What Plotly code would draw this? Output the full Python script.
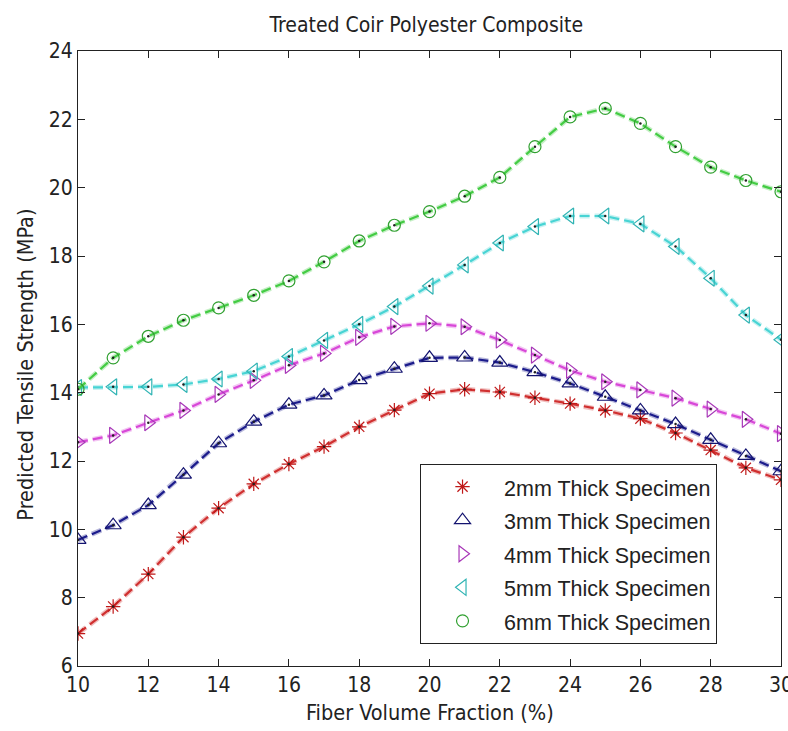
import plotly.graph_objects as go

fiber = [10, 11, 12, 13, 14, 15, 16, 17, 18, 19, 20, 21, 22, 23, 24, 25, 26, 27, 28, 29, 30]
s2mm = [6.95, 7.74, 8.69, 9.77, 10.62, 11.33, 11.91, 12.42, 13.0, 13.49, 13.97, 14.1, 14.02, 13.85, 13.68, 13.48, 13.24, 12.82, 12.32, 11.8, 11.45]
s3mm = [9.69, 10.12, 10.71, 11.6, 12.52, 13.15, 13.65, 13.92, 14.37, 14.7, 15.02, 15.03, 14.88, 14.6, 14.27, 13.88, 13.48, 13.08, 12.62, 12.15, 11.7]
s4mm = [12.55, 12.75, 13.12, 13.48, 13.95, 14.36, 14.8, 15.15, 15.62, 15.94, 16.03, 15.93, 15.54, 15.1, 14.65, 14.32, 14.08, 13.84, 13.52, 13.22, 12.8]
s5mm = [14.15, 14.17, 14.17, 14.24, 14.4, 14.63, 15.06, 15.53, 16.0, 16.52, 17.12, 17.74, 18.38, 18.86, 19.17, 19.17, 18.94, 18.28, 17.35, 16.27, 15.55]
s6mm = [14.1, 15.02, 15.65, 16.12, 16.48, 16.85, 17.27, 17.83, 18.44, 18.9, 19.3, 19.75, 20.3, 21.2, 22.07, 22.32, 21.88, 21.2, 20.6, 20.21, 19.88]

names = ["2mm Thick Specimen", "3mm Thick Specimen", "4mm Thick Specimen",
         "5mm Thick Specimen", "6mm Thick Specimen"]
series = [s2mm, s3mm, s4mm, s5mm, s6mm]
line_colors = ["#d03030", "#1c1c8c", "#d848d8", "#48d4d4", "#44cc44"]
marker_colors = ["#c01818", "#141470", "#a838b8", "#30b4b4", "#30a030"]
symbols = ["asterisk-open", "triangle-up-open", "triangle-right-open",
           "triangle-left-open", "circle-open"]
sizes = [12, 14, 14, 14, 12]

fig = go.Figure()
for ys, nm, lc, mc, sym, sz in zip(series, names, line_colors, marker_colors, symbols, sizes):
    fig.add_trace(go.Scatter(x=fiber, y=ys, mode="lines", showlegend=False,
                             line=dict(color=lc, width=5, dash="10px,5px"), opacity=0.3,
                             hoverinfo="skip"))
    fig.add_trace(go.Scatter(x=fiber, y=ys, mode="lines", showlegend=False,
                             line=dict(color=lc, width=2.2, dash="10px,5px")))
    fig.add_trace(go.Scatter(x=fiber, y=ys, mode="markers",
                             name='<span style="font-size:21.5px">' + nm + '</span>',
                             marker=dict(symbol=sym, size=sz, color=mc,
                                         line=dict(width=1.2, color=mc))))
    fig.add_trace(go.Scatter(x=fiber, y=ys, mode="markers", showlegend=False,
                             marker=dict(symbol="circle", size=2.5, color="#202020"),
                             hoverinfo="skip"))

narrow = "Liberation Sans Narrow, DejaVu Sans Condensed, Liberation Sans"
axis_font = dict(family=narrow, size=21, color="#222222")

fig.update_layout(
    width=788, height=731,
    margin=dict(l=78, r=7, t=51, b=65, autoexpand=False),
    paper_bgcolor="white", plot_bgcolor="white",
    showlegend=True,
    legend=dict(x=0.909, y=0.036, xanchor="right", yanchor="bottom",
                bgcolor="white", bordercolor="#222222", borderwidth=1,
                font=dict(family="Liberation Sans, Arial", size=23.5, color="#222222"),
                itemwidth=73, tracegroupgap=0),
    title=dict(text="Treated Coir Polyester Composite", x=0.541, xanchor="center",
               y=1 - 25 / 731, yanchor="middle",
               font=dict(family=narrow, size=21, color="#222222")),
)
fig.update_xaxes(range=[10, 30], dtick=2, tick0=10, ticks="inside", ticklen=7,
                 tickcolor="#222222", showline=True, linecolor="#222222", linewidth=1.2,
                 mirror="ticks", showgrid=False, zeroline=False, tickfont=axis_font,
                 ticklabeloverflow="allow", automargin=False)
fig.update_yaxes(range=[6, 24], dtick=2, tick0=6, ticks="inside", ticklen=7,
                 tickcolor="#222222", showline=True, linecolor="#222222", linewidth=1.2,
                 mirror="ticks", showgrid=False, zeroline=False, tickfont=axis_font,
                 ticklabeloverflow="allow", automargin=False)

label_font = dict(family=narrow, size=21.5, color="#222222")
fig.add_annotation(text="Fiber Volume Fraction (%)", xref="paper", yref="paper",
                   x=0.5, y=0, yshift=-46, yanchor="middle", showarrow=False,
                   font=label_font)
fig.add_annotation(text="Predicted Tensile Strength (MPa)", xref="paper", yref="paper",
                   x=0, y=0.49, xshift=-52, xanchor="center", yanchor="middle",
                   textangle=-90, showarrow=False, font=label_font)

fig.write_html("out.html")
